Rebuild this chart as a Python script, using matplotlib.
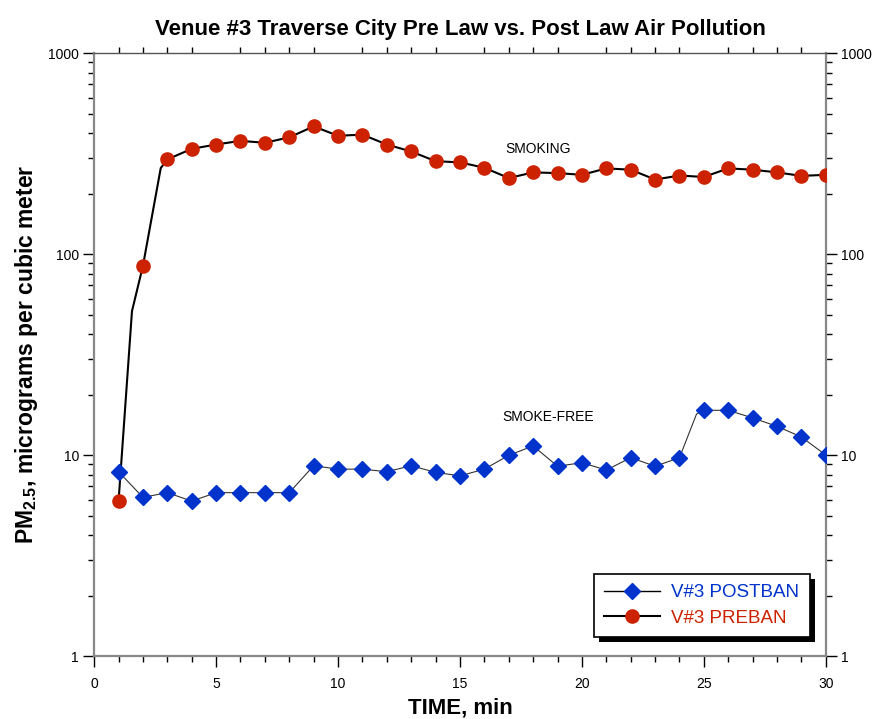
import numpy as np
import matplotlib.pyplot as plt
from matplotlib.patches import Rectangle
from matplotlib.transforms import IdentityTransform
from matplotlib.ticker import LogLocator, MultipleLocator, FixedLocator, NullFormatter

# ---- data ----
minutes = list(range(1, 31))
preban = [5.9, 87.5, 296, 334, 351, 366, 358, 381, 432, 388,
          393, 351, 324, 290, 286, 269, 239, 255, 253, 248,
          267, 263, 235, 246, 242, 267, 263, 255, 245, 248]
postban = [8.26, 6.16, 6.5, 5.9, 6.5, 6.5, 6.5, 6.5, 8.85, 8.51,
           8.51, 8.26, 8.85, 8.2, 7.88, 8.51, 9.97, 11.1, 8.8, 9.16,
           8.42, 9.7, 8.8, 9.7, 16.7, 16.7, 15.3, 13.9, 12.3, 10.0]
# connecting line has a few extra samples between markers
pre_line_t = [1, 1.55, 2, 2.73] + minutes[2:]
pre_line_v = [5.9, 52, 87.5, 268] + preban[2:]
post_line_t = minutes[:24] + [24.7] + minutes[24:]
post_line_v = postban[:24] + [16.0] + postban[24:]

RED = "#cc2200"
BLUE = "#0033cc"
SPINE = "#888888"

plt.rcParams["font.family"] = ["Liberation Sans", "DejaVu Sans"]
plt.rcParams["mathtext.fontset"] = "custom"
plt.rcParams["mathtext.rm"] = "Liberation Sans"
plt.rcParams["mathtext.bf"] = "Liberation Sans:bold"

fig = plt.figure(figsize=(8.72, 7.19), dpi=100)
ax = fig.add_axes([0.108, 0.0876, 0.839, 0.8385])

ax.plot(post_line_t, post_line_v, color="#333333", lw=0.8, zorder=2)
ax.plot(pre_line_t, pre_line_v, color="black", lw=1.5, zorder=2)
ax.plot(minutes, postban, ls="none", marker="D", ms=8, color=BLUE,
        mec=BLUE, zorder=3)
ax.plot(minutes, preban, ls="none", marker="o", ms=9.5, color=RED,
        mec=RED, zorder=3)

# legend handles
h_post, = ax.plot([], [], color="black", lw=1, marker="D", ms=8,
                  mfc=BLUE, mec=BLUE)
h_pre, = ax.plot([], [], color="black", lw=1.5, marker="o", ms=9.5,
                 mfc=RED, mec=RED)

ax.set_yscale("log")
ax.set_xlim(0, 30)
ax.set_ylim(1, 1000)

ax.xaxis.set_major_locator(MultipleLocator(5))
ax.xaxis.set_minor_locator(MultipleLocator(1))
ax.yaxis.set_major_locator(FixedLocator([1, 10, 100, 1000]))
ax.yaxis.set_major_formatter(plt.FuncFormatter(lambda v, p: f"{v:g}"))
ax.yaxis.set_minor_locator(LogLocator(base=10, subs=np.arange(2, 10)))
ax.yaxis.set_minor_formatter(NullFormatter())

ax.tick_params(which="both", direction="out", right=True,
               labelright=True, color="black", labelsize=10)
ax.tick_params(which="major", length=8, width=1)
ax.tick_params(which="minor", length=4, width=1)
ax.tick_params(axis="y", pad=3)
ax.tick_params(axis="x", pad=7)
ax.tick_params(axis="x", which="minor", top=True)

for side in ["left", "right", "bottom"]:
    ax.spines[side].set_color(SPINE)
    ax.spines[side].set_linewidth(1.6)
ax.spines["top"].set_color("#555555")
ax.spines["top"].set_linewidth(1.0)

ax.text(18.2, 335, "SMOKING", ha="center", va="center", fontsize=10)
ax.text(18.6, 15.5, "SMOKE-FREE", ha="center", va="center", fontsize=10)

ax.set_title("Venue #3 Traverse City Pre Law vs. Post Law Air Pollution",
             fontsize=16, fontweight="bold", pad=13)
ax.set_xlabel("TIME, min", fontsize=16, fontweight="bold", labelpad=5)
ax.set_ylabel(r"PM$_{\mathbf{2.5}}$, micrograms per cubic meter", fontsize=16.5,
              fontweight="bold", labelpad=6)

leg = ax.legend([h_post, h_pre], ["V#3 POSTBAN", "V#3 PREBAN"],
                loc="lower right", bbox_to_anchor=(0.978, 0.031),
                borderaxespad=0, fontsize=13.5, frameon=True, fancybox=False,
                facecolor="white", framealpha=1.0,
                edgecolor="black", handlelength=3.0, borderpad=0.55,
                labelspacing=0.45, handletextpad=0.6)
leg.get_frame().set_linewidth(1.2)
leg.set_zorder(6)
leg.get_texts()[0].set_color(BLUE)
leg.get_texts()[1].set_color(RED)

# solid black drop shadow behind the legend box
fig.canvas.draw()
bb = leg.get_window_extent()
ax.add_patch(Rectangle((bb.x0 + 5, bb.y0 - 5), bb.width, bb.height,
                       transform=IdentityTransform(), facecolor="black",
                       edgecolor="none", zorder=5, clip_on=False))

fig.savefig("out.png", dpi=100)
